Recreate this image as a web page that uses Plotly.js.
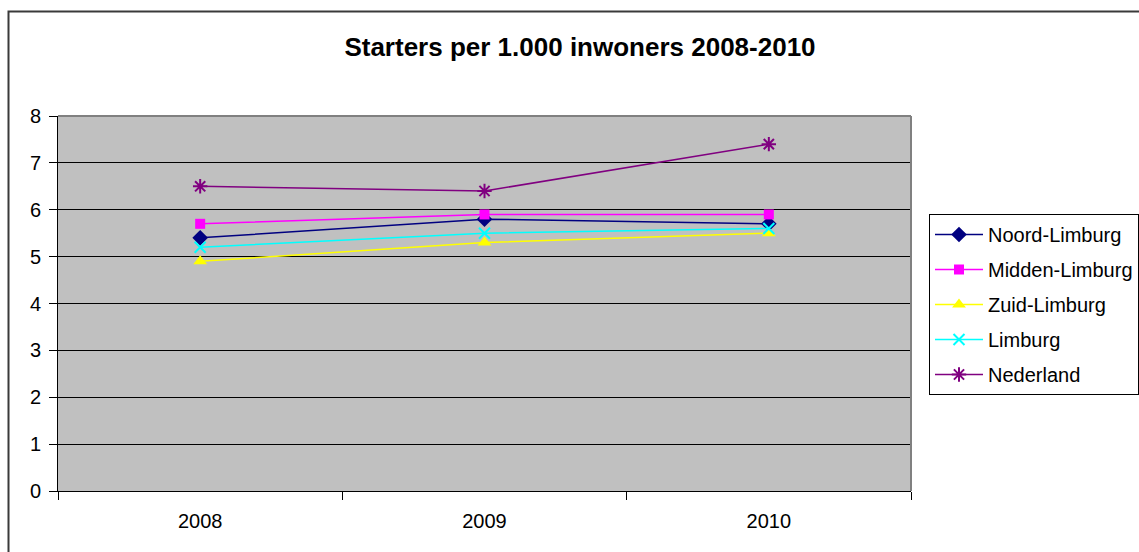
<!DOCTYPE html>
<html>
<head>
<meta charset="utf-8">
<script src="https://cdn.plot.ly/plotly-3.0.1.min.js"></script>
<style>
  html, body { margin: 0; padding: 0; background: #ffffff; }
  #chart { width: 1139px; height: 552px; }
</style>
</head>
<body>
<div id="chart"></div>
<script>
const years = ['2008', '2009', '2010'];
const noordLimburg = [5.4, 5.8, 5.7];
const middenLimburg = [5.7, 5.9, 5.9];
const zuidLimburg = [4.9, 5.3, 5.5];
const limburg = [5.2, 5.5, 5.6];
const nederland = [6.5, 6.4, 7.4];
const yTicks = [0, 1, 2, 3, 4, 5, 6, 7, 8];

const FONT = '"Liberation Sans", Arial, sans-serif';

function series(name, values, color, symbol, size, mlw) {
  return {
    type: 'scatter', mode: 'lines+markers', name: name, x: years, y: values,
    legendgroup: name,
    line: {color: color, width: 1.5},
    marker: {symbol: symbol, size: size, color: color, line: {color: color, width: mlw}}
  };
}

const data = [
  series('Noord-Limburg', noordLimburg, '#000080', 'diamond', 12, 0),
  series('Midden-Limburg', middenLimburg, '#ff00ff', 'square', 10, 0),
  series('Zuid-Limburg', zuidLimburg, '#ffff00', 'triangle-up', 12, 0),
  series('Limburg', limburg, '#00ffff', 'x-thin-open', 11, 2),
  series('Nederland', nederland, '#800080', 'asterisk-open', 12, 2)
];

const layout = {
  width: 1139, height: 552,
  margin: {l: 58, r: 228, t: 116, b: 61, autoexpand: false},
  paper_bgcolor: '#ffffff',
  plot_bgcolor: '#c0c0c0',
  font: {family: FONT, size: 20, color: '#000000'},
  title: {
    text: '<b>Starters per 1.000 inwoners 2008-2010</b>',
    font: {family: FONT, size: 26, color: '#000000'},
    xref: 'container', yref: 'container',
    x: 580 / 1139, xanchor: 'center',
    y: 1 - 47 / 552, yanchor: 'middle'
  },
  xaxis: {
    type: 'category', categoryorder: 'array', categoryarray: years,
    range: [-0.5, 2.5], tickson: 'boundaries',
    ticks: 'outside', ticklen: 8, tickcolor: '#000000', tickwidth: 1,
    showline: true, linecolor: '#000000', linewidth: 1,
    showgrid: false, zeroline: false,
    ticklabelstandoff: 12,
    tickfont: {family: FONT, size: 20, color: '#000000'}
  },
  yaxis: {
    range: [0, 8], tickvals: yTicks, ticktext: yTicks.map(String),
    ticks: 'outside', ticklen: 8, tickcolor: '#000000', tickwidth: 1,
    showline: true, linecolor: '#000000', linewidth: 1,
    showgrid: true, gridcolor: '#000000', gridwidth: 1, zeroline: false,
    ticklabelstandoff: 4,
    tickfont: {family: FONT, size: 20, color: '#000000'}
  },
  legend: {
    x: (929 - 58) / 853, xanchor: 'left',
    y: (491 - 214) / 375, yanchor: 'top',
    bgcolor: '#ffffff', bordercolor: '#000000', borderwidth: 1,
    font: {family: FONT, size: 20, color: '#000000'},
    traceorder: 'grouped', tracegroupgap: 6, itemwidth: 48
  },
  showlegend: true,
  shapes: [
    {type: 'line', xref: 'paper', yref: 'paper', x0: 0, x1: 1, y0: 1, y1: 1,
     line: {color: '#808080', width: 2}},
    {type: 'line', xref: 'paper', yref: 'paper', x0: 1, x1: 1, y0: 0, y1: 1,
     line: {color: '#808080', width: 2}},
    {type: 'rect', xref: 'paper', yref: 'paper',
     x0: (8.5 - 58) / 853, x1: 2, y0: -1, y1: (491 - 11.5) / 375,
     line: {color: '#3a3a3a', width: 2}, fillcolor: 'rgba(0,0,0,0)', layer: 'below'}
  ]
};

Plotly.newPlot('chart', data, layout, {displayModeBar: false, staticPlot: true});
</script>
</body>
</html>
